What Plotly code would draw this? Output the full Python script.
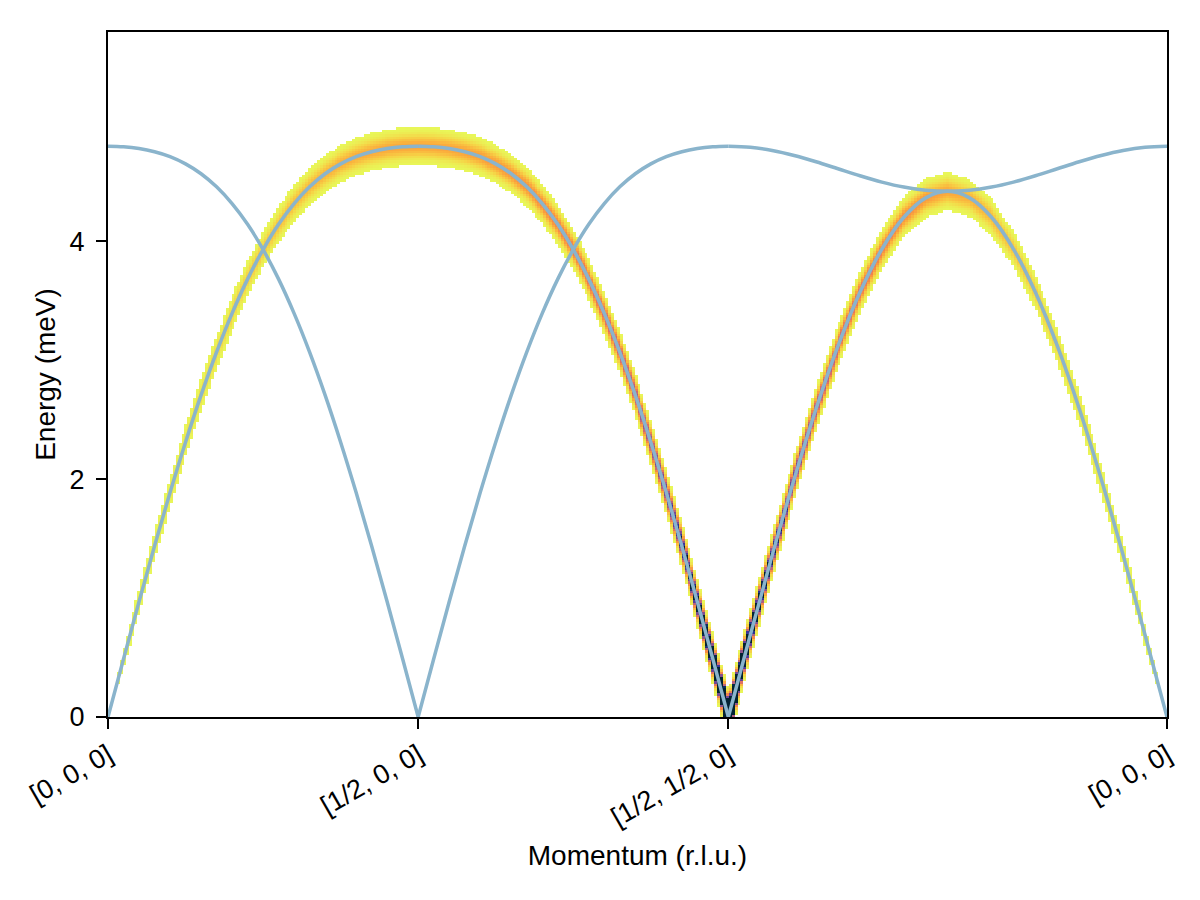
import numpy as np
import plotly.graph_objects as go

# ---------------- data ----------------
q_nodes = [[0.0, 0.0, 0.0], [0.5, 0.0, 0.0], [0.5, 0.5, 0.0], [0.0, 0.0, 0.0]]
q_labels = ["[0, 0, 0]", "[1/2, 0, 0]", "[1/2, 1/2, 0]", "[0, 0, 0]"]
points_per_segment = 21

# band 1 (the one carrying intensity), meV, per path segment
band1_seg1 = [0.000, 0.488, 0.969, 1.438, 1.887, 2.311, 2.706, 3.068, 3.394, 3.682, 3.931,
              4.143, 4.317, 4.458, 4.568, 4.651, 4.712, 4.753, 4.780, 4.795, 4.800]
band1_seg2 = [4.800, 4.795, 4.780, 4.753, 4.712, 4.651, 4.568, 4.458, 4.317, 4.143, 3.931,
              3.682, 3.394, 3.068, 2.706, 2.311, 1.887, 1.438, 0.969, 0.488, 0.000]
band1_seg3 = [0.000, 0.689, 1.361, 2.001, 2.592, 3.120, 3.571, 3.935, 4.202, 4.365, 4.420,
              4.365, 4.202, 3.935, 3.571, 3.120, 2.592, 2.001, 1.361, 0.689, 0.000]
# band 2 (no intensity), meV
band2_seg1 = [4.800, 4.795, 4.780, 4.753, 4.712, 4.651, 4.568, 4.458, 4.317, 4.143, 3.931,
              3.682, 3.394, 3.068, 2.706, 2.311, 1.887, 1.438, 0.969, 0.488, 0.000]
band2_seg2 = [0.000, 0.488, 0.969, 1.438, 1.887, 2.311, 2.706, 3.068, 3.394, 3.682, 3.931,
              4.143, 4.317, 4.458, 4.568, 4.651, 4.712, 4.753, 4.780, 4.795, 4.800]
band2_seg3 = [4.800, 4.791, 4.764, 4.722, 4.669, 4.610, 4.551, 4.498, 4.456, 4.429, 4.420,
              4.429, 4.456, 4.498, 4.551, 4.610, 4.669, 4.722, 4.764, 4.791, 4.800]
# relative intensity of band 1
weight_seg1 = [0.000, 0.061, 0.121, 0.182, 0.243, 0.304, 0.366, 0.427, 0.489, 0.550, 0.610,
               0.670, 0.728, 0.783, 0.834, 0.881, 0.921, 0.955, 0.980, 0.995, 1.000]
weight_seg2 = [1.000, 1.005, 1.021, 1.047, 1.085, 1.135, 1.199, 1.278, 1.374, 1.493, 1.638,
               1.819, 2.047, 2.342, 2.736, 3.288, 4.116, 5.496, 8.253, 16.52, 40.0]
weight_seg3 = [40.0, 11.67, 5.817, 3.858, 2.871, 2.272, 1.866, 1.569, 1.340, 1.155, 1.000,
               0.866, 0.746, 0.637, 0.536, 0.440, 0.348, 0.259, 0.172, 0.086, 0.000]

energy_max = 5.76
energy_ticks = [0, 2, 4]
broadening_sigma = 0.061
visible_threshold = 0.03
color_max = 5.0
n_energy_bins = 288
n_columns = 360

line_color = "rgb(138,180,204)"

# ---------------- path geometry ----------------
seg_x = []
node_x = [0.0]
start = 0.0
for i in range(len(q_nodes) - 1):
    a = np.array(q_nodes[i])
    b = np.array(q_nodes[i + 1])
    length = float(np.linalg.norm(b - a))
    seg_x.append(start + np.linspace(0.0, length, points_per_segment))
    start += length
    node_x.append(start)
total_len = start

band1 = [band1_seg1, band1_seg2, band1_seg3]
band2 = [band2_seg1, band2_seg2, band2_seg3]
weights = [weight_seg1, weight_seg2, weight_seg3]

xs = np.concatenate([seg_x[0]] + [s[1:] for s in seg_x[1:]])
w1 = np.concatenate([band1[0]] + [np.array(b[1:]) for b in band1[1:]])
ww = np.concatenate([weights[0]] + [np.array(b[1:]) for b in weights[1:]])

col_x = (np.arange(n_columns) + 0.5) * total_len / n_columns
col_w = np.interp(col_x, xs, w1)
col_I = np.interp(col_x, xs, ww)
E = (np.arange(n_energy_bins) + 0.5) * energy_max / n_energy_bins
Z = col_I[None, :] * np.exp(-(E[:, None] - col_w[None, :]) ** 2 / (2 * broadening_sigma ** 2))
z = [[None if v < visible_threshold else float(v) for v in row] for row in Z]

fig = go.Figure()
fig.add_trace(go.Heatmap(x=col_x, y=E, z=z, colorscale="thermal", reversescale=True,
                         zmin=0, zmax=color_max, showscale=False, hoverinfo="skip"))
for bands in (band1, band2):
    for i in range(3):
        fig.add_trace(go.Scatter(x=seg_x[i], y=bands[i], mode="lines",
                                 line=dict(color=line_color, width=3.5, shape="spline"),
                                 showlegend=False, hoverinfo="skip"))

axis_common = dict(showgrid=False, zeroline=False, showline=True, linecolor="black",
                   linewidth=2, mirror=True, ticks="outside", ticklen=10, tickwidth=2,
                   tickcolor="black", tickfont=dict(size=27))
fig.update_xaxes(range=[0, total_len], tickvals=node_x, ticktext=q_labels, tickangle=-30,
                 title=dict(text="Momentum (r.l.u.)", standoff=14, font=dict(size=28)),
                 **axis_common)
fig.update_yaxes(range=[0, energy_max], tickvals=energy_ticks, ticklabelstandoff=6,
                 title=dict(text="Energy (meV)", standoff=6, font=dict(size=28)),
                 **axis_common)
fig.update_layout(width=1200, height=900, margin=dict(l=108, r=33, t=32, b=183),
                  plot_bgcolor="white", paper_bgcolor="white",
                  font=dict(family="Liberation Sans, Arial, sans-serif", size=28, color="black"))

fig.write_html("out.html", config={"displayModeBar": False},
               post_script="document.body.style.margin='0';")
